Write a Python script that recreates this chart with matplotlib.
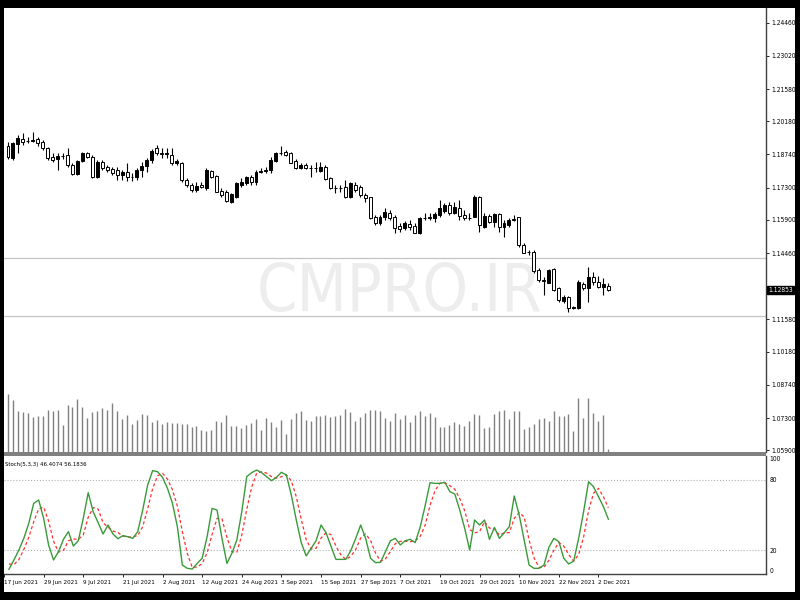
import numpy as np
import pandas as pd
import matplotlib
matplotlib.use("Agg")
import matplotlib.pyplot as plt
from matplotlib.patches import Rectangle
from matplotlib.transforms import blended_transform_factory
from matplotlib import font_manager

# narrow look of the MT4 screenshot: prefer a narrow face when one is installed
_names = {f.name for f in font_manager.fontManager.ttflist}
FONT = ['Liberation Sans Narrow'] if 'Liberation Sans Narrow' in _names else ['DejaVu Sans']
STRETCH = 'condensed'

# daily bars, 18 Jun 2021 .. 6 Dec 2021 (122 bars)
dates = pd.bdate_range("2021-06-18", "2021-12-06")

opens = [1.1911, 1.1858, 1.1920, 1.1940, 1.1931, 1.1934, 1.1940, 1.1928, 1.1901, 1.1864,
         1.1855, 1.1868, 1.1872, 1.1829, 1.1789, 1.1847, 1.1882, 1.1864, 1.1777, 1.1843,
         1.1821, 1.1810, 1.1807, 1.1785, 1.1800, 1.1776, 1.1776, 1.1807, 1.1824, 1.1850,
         1.1901, 1.1879, 1.1878, 1.1872, 1.1836, 1.1836, 1.1763, 1.1742, 1.1720, 1.1742,
         1.1729, 1.1804, 1.1781, 1.1717, 1.1713, 1.1669, 1.1691, 1.1742, 1.1752, 1.1775,
         1.1753, 1.1799, 1.1801, 1.1807, 1.1847, 1.1880, 1.1886, 1.1879, 1.1847, 1.1814,
         1.1829, 1.1814, 1.1815, 1.1804, 1.1821, 1.1770, 1.1727, 1.1728, 1.1734, 1.1688,
         1.1742, 1.1734, 1.1698, 1.1688, 1.1604, 1.1578, 1.1601, 1.1622, 1.1601, 1.1564,
         1.1554, 1.1572, 1.1564, 1.1532, 1.1597, 1.1599, 1.1597, 1.1611, 1.1630, 1.1655,
         1.1621, 1.1640, 1.1611, 1.1597, 1.1604, 1.1688, 1.1561, 1.1607, 1.1582, 1.1614,
         1.1561, 1.1568, 1.1590, 1.1601, 1.1481, 1.1452, 1.1452, 1.1373, 1.1329, 1.1318,
         1.1376, 1.1293, 1.1240, 1.1257, 1.1206, 1.1206, 1.1312, 1.1293, 1.1341, 1.1322,
         1.1297, 1.1303]
highs = [1.1930, 1.1930, 1.1959, 1.1966, 1.1951, 1.1973, 1.1951, 1.1937, 1.1908, 1.1879,
         1.1879, 1.1879, 1.1901, 1.1836, 1.1850, 1.1886, 1.1886, 1.1872, 1.1850, 1.1850,
         1.1829, 1.1821, 1.1821, 1.1807, 1.1836, 1.1792, 1.1814, 1.1843, 1.1857, 1.1896,
         1.1915, 1.1901, 1.1901, 1.1901, 1.1853, 1.1843, 1.1770, 1.1749, 1.1756, 1.1756,
         1.1814, 1.1807, 1.1785, 1.1727, 1.1720, 1.1709, 1.1756, 1.1770, 1.1781, 1.1785,
         1.1807, 1.1814, 1.1820, 1.1865, 1.1886, 1.1911, 1.1894, 1.1886, 1.1853, 1.1836,
         1.1839, 1.1829, 1.1843, 1.1843, 1.1829, 1.1775, 1.1742, 1.1742, 1.1763, 1.1756,
         1.1756, 1.1742, 1.1706, 1.1691, 1.1611, 1.1611, 1.1640, 1.1633, 1.1611, 1.1575,
         1.1585, 1.1590, 1.1575, 1.1601, 1.1619, 1.1622, 1.1626, 1.1677, 1.1665, 1.1669,
         1.1669, 1.1677, 1.1633, 1.1619, 1.1698, 1.1694, 1.1619, 1.1616, 1.1619, 1.1619,
         1.1590, 1.1597, 1.1611, 1.1604, 1.1488, 1.1460, 1.1460, 1.1380, 1.1341, 1.1376,
         1.1380, 1.1298, 1.1264, 1.1260, 1.1216, 1.1329, 1.1322, 1.1387, 1.1365, 1.1347,
         1.1337, 1.1315]
lows = [1.1854, 1.1850, 1.1880, 1.1915, 1.1925, 1.1930, 1.1911, 1.1894, 1.1850, 1.1843,
        1.1807, 1.1854, 1.1821, 1.1785, 1.1785, 1.1843, 1.1857, 1.1773, 1.1773, 1.1807,
        1.1800, 1.1785, 1.1763, 1.1763, 1.1759, 1.1759, 1.1763, 1.1775, 1.1800, 1.1836,
        1.1872, 1.1858, 1.1858, 1.1829, 1.1829, 1.1756, 1.1734, 1.1713, 1.1713, 1.1727,
        1.1720, 1.1770, 1.1711, 1.1691, 1.1669, 1.1662, 1.1684, 1.1734, 1.1742, 1.1742,
        1.1742, 1.1795, 1.1794, 1.1793, 1.1843, 1.1872, 1.1868, 1.1836, 1.1810, 1.1810,
        1.1810, 1.1778, 1.1800, 1.1800, 1.1763, 1.1723, 1.1706, 1.1713, 1.1684, 1.1684,
        1.1713, 1.1691, 1.1669, 1.1593, 1.1568, 1.1568, 1.1590, 1.1590, 1.1532, 1.1539,
        1.1546, 1.1546, 1.1532, 1.1529, 1.1590, 1.1590, 1.1582, 1.1604, 1.1621, 1.1611,
        1.1616, 1.1590, 1.1590, 1.1590, 1.1601, 1.1539, 1.1554, 1.1575, 1.1561, 1.1539,
        1.1515, 1.1561, 1.1585, 1.1474, 1.1445, 1.1438, 1.1361, 1.1320, 1.1264, 1.1315,
        1.1283, 1.1235, 1.1228, 1.1192, 1.1202, 1.1202, 1.1286, 1.1235, 1.1307, 1.1293,
        1.1264, 1.1283]
closes = [1.1862, 1.1923, 1.1945, 1.1930, 1.1933, 1.1936, 1.1926, 1.1901, 1.1858, 1.1850,
          1.1868, 1.1867, 1.1829, 1.1789, 1.1847, 1.1882, 1.1864, 1.1775, 1.1843, 1.1814,
          1.1807, 1.1795, 1.1785, 1.1800, 1.1775, 1.1777, 1.1807, 1.1824, 1.1850, 1.1890,
          1.1879, 1.1878, 1.1880, 1.1836, 1.1847, 1.1763, 1.1742, 1.1720, 1.1737, 1.1732,
          1.1807, 1.1778, 1.1713, 1.1698, 1.1673, 1.1703, 1.1749, 1.1756, 1.1775, 1.1753,
          1.1799, 1.1801, 1.1808, 1.1850, 1.1879, 1.1882, 1.1872, 1.1838, 1.1814, 1.1829,
          1.1814, 1.1815, 1.1814, 1.1821, 1.1766, 1.1727, 1.1728, 1.1727, 1.1688, 1.1749,
          1.1720, 1.1698, 1.1684, 1.1597, 1.1575, 1.1601, 1.1626, 1.1597, 1.1554, 1.1549,
          1.1578, 1.1558, 1.1535, 1.1597, 1.1599, 1.1601, 1.1614, 1.1640, 1.1655, 1.1621,
          1.1647, 1.1607, 1.1597, 1.1599, 1.1688, 1.1568, 1.1607, 1.1582, 1.1614, 1.1558,
          1.1575, 1.1590, 1.1593, 1.1481, 1.1448, 1.1450, 1.1370, 1.1329, 1.1327, 1.1373,
          1.1286, 1.1243, 1.1254, 1.1206, 1.1213, 1.1322, 1.1293, 1.1341, 1.1322, 1.1300,
          1.1311, 1.12853]
volumes = [58, 52, 41, 40, 39, 35, 36, 36, 42, 41, 42, 27, 47, 45, 53, 45, 34, 40, 41, 44,
           42, 49, 41, 33, 37, 28, 32, 38, 37, 30, 32, 28, 30, 29, 29, 28, 28, 25, 26, 22,
           21, 22, 31, 30, 37, 26, 26, 24, 27, 29, 33, 22, 34, 30, 25, 32, 18, 33, 39, 41,
           32, 31, 36, 36, 37, 35, 36, 37, 43, 40, 31, 35, 39, 42, 42, 41, 34, 31, 39, 33,
           37, 30, 37, 41, 36, 39, 35, 25, 25, 27, 30, 28, 26, 31, 38, 37, 24, 25, 38, 41,
           42, 33, 41, 41, 23, 25, 28, 33, 34, 31, 41, 36, 36, 38, 21, 54, 34, 54, 39, 31,
           37, 3]

stoch_k = [4.0, 11.9, 20.3, 30.2, 42.9, 59.9, 62.7, 47.2, 24.6, 11.9,
           18.9, 29.4, 35.9, 23.7, 28.2, 47.2, 68.9, 52.8, 43.5, 33.9,
           41.5, 33.9, 29.9, 32.5, 31.6, 30.2, 35.9, 54.2, 75.4, 87.6,
           86.7, 81.9, 72.6, 59.9, 40.1, 7.6, 4.8, 4.2, 9.0, 13.3,
           31.6, 55.6, 54.2, 30.2, 9.0, 17.5, 28.8, 52.8, 82.5, 85.9,
           88.1, 85.9, 82.5, 79.1, 81.9, 86.2, 83.9, 66.9, 45.8, 26.6,
           15.3, 21.8, 28.2, 41.5, 35.0, 23.7, 12.4, 12.4, 12.4, 19.8,
           30.2, 41.5, 30.2, 13.3, 9.6, 9.9, 18.9, 28.2, 30.2, 24.6,
           28.2, 29.4, 26.6, 39.5, 57.6, 77.4, 76.8, 76.8, 77.7, 69.8,
           67.8, 54.2, 38.7, 20.3, 45.8, 41.5, 45.8, 29.4, 39.5, 30.2,
           35.0, 40.1, 66.1, 50.0, 28.8, 7.6, 4.8, 4.8, 7.6, 22.6,
           30.2, 27.4, 13.3, 8.5, 11.0, 30.2, 52.8, 78.2, 74.0, 65.5,
           57.1, 46.4074]
stoch_d = [8.5, 8.0, 12.1, 20.8, 31.1, 44.3, 55.2, 56.6, 44.8, 27.9,
           18.5, 20.1, 28.1, 29.7, 29.3, 33.0, 48.1, 56.3, 55.1, 43.4,
           39.6, 36.4, 35.1, 32.1, 31.3, 31.4, 32.6, 40.1, 55.2, 72.4,
           83.2, 85.4, 80.4, 71.5, 57.5, 35.9, 17.5, 5.5, 6.0, 8.8,
           18.0, 33.5, 47.1, 46.7, 31.1, 18.9, 18.4, 33.0, 54.7, 73.7,
           85.5, 86.6, 85.5, 82.5, 81.2, 82.4, 84.0, 79.0, 65.5, 46.4,
           29.2, 21.2, 21.8, 30.5, 34.9, 33.4, 23.7, 16.2, 12.4, 14.9,
           20.8, 30.5, 34.0, 28.3, 17.7, 10.9, 12.8, 19.0, 25.8, 27.7,
           27.7, 27.4, 28.1, 31.8, 41.2, 58.2, 70.6, 77.0, 77.1, 74.8,
           71.8, 63.9, 53.6, 37.7, 34.9, 35.9, 44.4, 38.9, 38.2, 33.0,
           34.9, 35.1, 47.1, 52.1, 48.3, 28.8, 13.7, 5.7, 5.7, 11.7,
           20.1, 26.7, 23.6, 16.4, 10.9, 16.6, 31.3, 53.7, 68.3, 72.6,
           65.5, 56.1836]

price_ticks = [1.24460, 1.23020, 1.21580, 1.20180, 1.18740, 1.17300, 1.15900,
               1.14460, 1.11580, 1.10180, 1.08740, 1.07300, 1.05900]
hlines = [1.1425, 1.1173]
date_labels = ["17 Jun 2021", "29 Jun 2021", "9 Jul 2021", "21 Jul 2021", "2 Aug 2021",
               "12 Aug 2021", "24 Aug 2021", "3 Sep 2021", "15 Sep 2021", "27 Sep 2021",
               "7 Oct 2021", "19 Oct 2021", "29 Oct 2021", "10 Nov 2021", "22 Nov 2021",
               "2 Dec 2021"]

o = np.array(opens); h = np.array(highs); l = np.array(lows); c = np.array(closes)
x = np.arange(len(dates))
XLIM = (-0.806, 152.82)

fig = plt.figure(figsize=(8, 6), dpi=100, facecolor='black')
fig.add_artist(Rectangle((4/800, 8/600), 791/800, 584/600, transform=fig.transFigure,
                         facecolor='white', edgecolor='none', zorder=-5))

ax = fig.add_axes([4/800, 148/600, 762/800, 444/600])
ax_st = fig.add_axes([4/800, 26/600, 762/800, 118/600])
# gray panel separator
fig.add_artist(Rectangle((4/800, 144/600), 762/800, 4/600, transform=fig.transFigure,
                         facecolor='#808080', edgecolor='none', zorder=5))

# volumes overlay (twin made first, it moves the host ticks to the left)
ax_v = ax.twinx()

# ---- price panel ----
ax.set_facecolor('white')
ax.set_xlim(*XLIM)
ax.set_ylim(1.05828, 1.25098)
for s in ('top', 'left', 'bottom'):
    ax.spines[s].set_visible(False)
ax.spines['right'].set_color('#404040')
ax.spines['right'].set_linewidth(1.0)

wm = ax.text(0.5, 1 - 293/600, "CMPRO.IR", transform=fig.transFigure, ha='center',
             va='center', fontsize=50, color='#ededed', family=FONT, stretch=STRETCH,
             zorder=0)

for p in hlines:
    ax.axhline(p, color='#c4c4c4', lw=0.9, zorder=1)

up = c >= o
ax.vlines(x, l, h, color='black', lw=0.8, zorder=2)
ax.bar(x, np.maximum(np.abs(c - o), 1e-5), bottom=np.minimum(o, c), width=0.6,
       color=np.where(up, 'black', 'white'), edgecolor='black', linewidth=0.7, zorder=3)

ax.yaxis.tick_right()
ax.set_yticks(price_ticks)
plabs = ax.set_yticklabels([f"{p:.5f}" for p in price_ticks], fontsize=5.7,
                           family=FONT, stretch=STRETCH)
ax.tick_params(axis='y', which='both', left=False, right=True, labelleft=False,
               labelright=True, length=2.5, width=0.6, pad=1.5, colors='black')
ax.set_xticks([])

trans = blended_transform_factory(ax.transAxes, ax.transData)
cur = ax.text(1.003, closes[-1], f"{closes[-1]:.5f}", transform=trans, ha='left',
              va='center', fontsize=5.7, family=FONT, stretch=STRETCH, color='white',
              bbox=dict(boxstyle='square,pad=0.2', facecolor='black', edgecolor='black'))

ax_v.set_xlim(*XLIM)
ax_v.vlines(x, 0, volumes, color='#808080', lw=1.0)
ax_v.set_ylim(0, 444)
ax_v.set_yticks([])
for s in ax_v.spines.values():
    s.set_visible(False)

# ---- stochastic panel ----
ax_st.set_facecolor('white')
ax_st.set_xlim(*XLIM)
ax_st.set_ylim(0, 100)
for s in ('top', 'left'):
    ax_st.spines[s].set_visible(False)
for s in ('right', 'bottom'):
    ax_st.spines[s].set_color('#404040')
    ax_st.spines[s].set_linewidth(1.0)

for lvl in (80, 20):
    ax_st.axhline(lvl, color='#b0b0b0', ls=':', lw=0.8, zorder=1)
ax_st.plot(x, stoch_k, color='#3a9a3a', lw=1.0, zorder=3)
ax_st.plot(x, stoch_d, color='#ff3030', lw=0.9, ls=(0, (2.5, 2)), zorder=2)

title = ax_st.text(1/762, 0.925, f"Stoch(5,3,3) {stoch_k[-1]:.4f} {stoch_d[-1]:.4f}",
                   transform=ax_st.transAxes, ha='left', va='center', fontsize=5.3,
                   family=FONT, stretch=STRETCH)

ax_st.yaxis.tick_right()
ax_st.set_yticks([100, 80, 20, 0])
slabs = ax_st.set_yticklabels(["100", "80", "20", "0"], fontsize=5.7, family=FONT,
                              stretch=STRETCH)
slabs[0].set_va('top')
slabs[3].set_va('bottom')
ax_st.tick_params(axis='y', length=0, pad=2.5)

ax_st.set_xticks(np.arange(-1, len(dates), 8))
xlabs = ax_st.set_xticklabels(date_labels, fontsize=5.3, family=FONT, stretch=STRETCH)
for t in xlabs:
    t.set_ha('left')
ax_st.tick_params(axis='x', length=2.5, width=0.6, pad=1.5)


# fit text sizes to the widths measured on the reference screenshot
def fit(texts, sample, target_px):
    r = fig.canvas.get_renderer()
    w = sample.get_window_extent(r).width
    size = sample.get_fontsize() * target_px / w
    for t in texts:
        t.set_fontsize(size)


fig.canvas.draw()
fit(xlabs, xlabs[1], 34)
fit(list(plabs) + [cur] + list(slabs), plabs[0], 24)
fit([title], title, 82)
fit([wm], wm, 285)

# black frame drawn last so it crops the first date label
fig.add_artist(Rectangle((0, 0), 4/800, 1, transform=fig.transFigure,
                         facecolor='black', edgecolor='none', zorder=20))

fig.savefig("out.png", dpi=100, facecolor='black')
